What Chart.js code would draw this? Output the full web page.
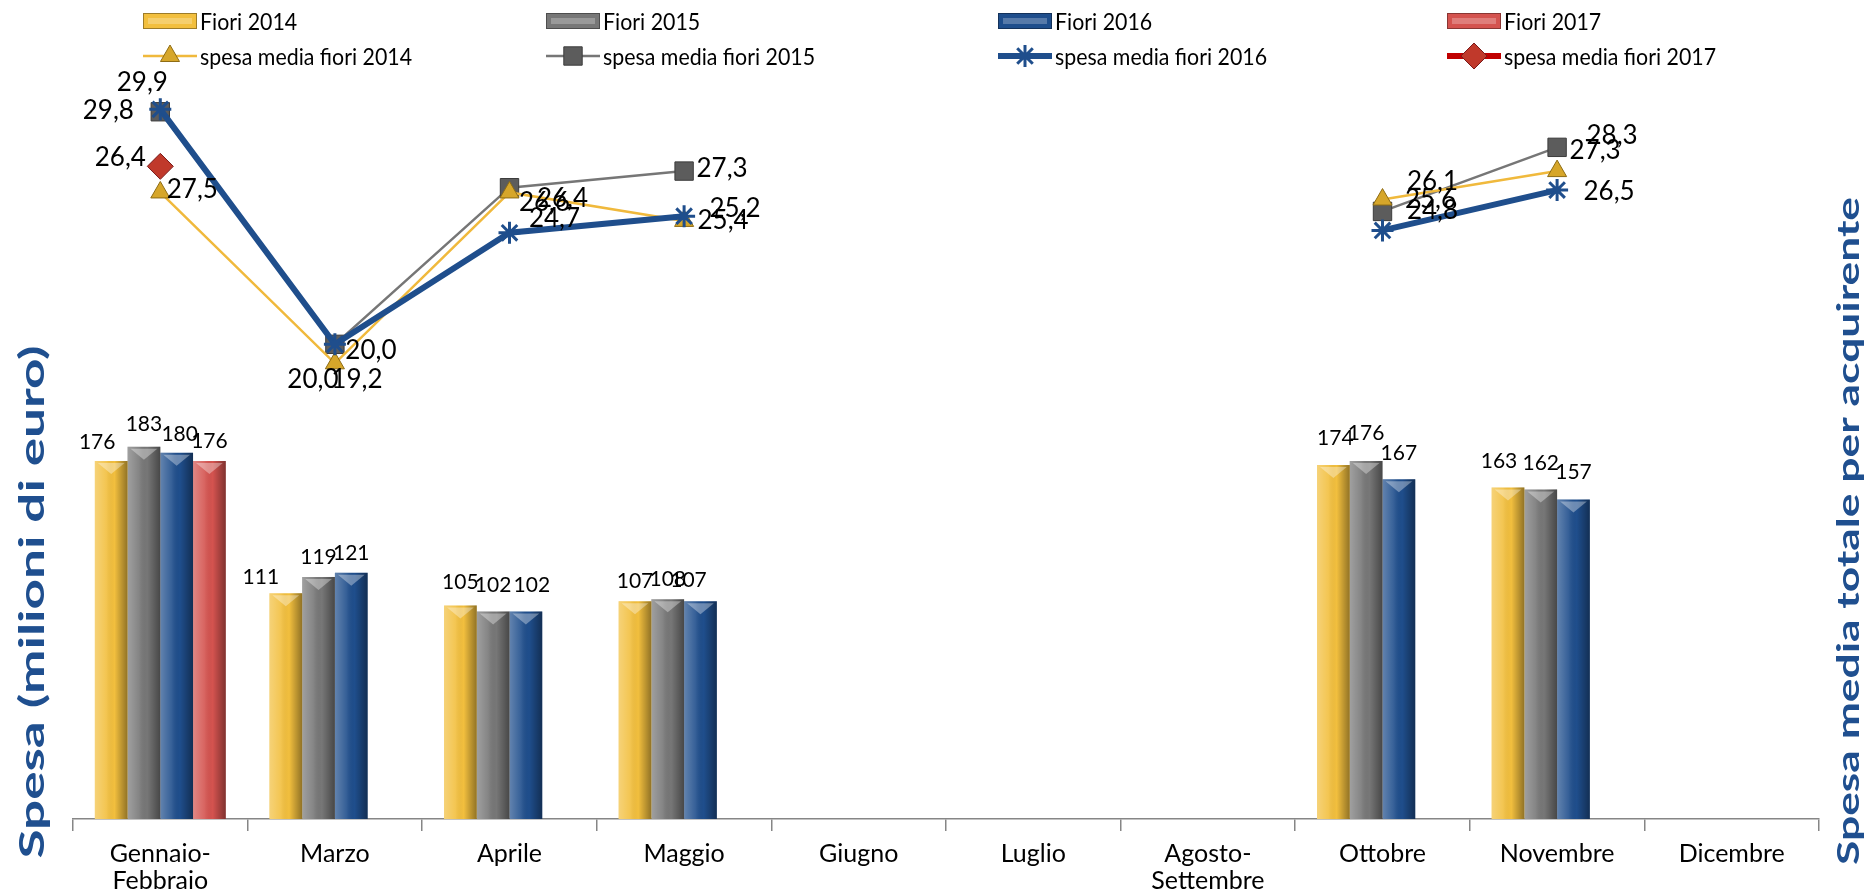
<!DOCTYPE html>
<html>
<head>
<meta charset="utf-8">
<script src="https://cdn.jsdelivr.net/npm/chart.js@4.4.0/dist/chart.umd.min.js"></script>
<style>
  html, body { margin: 0; padding: 0; background: #fff; }
  #wrap { width: 1870px; height: 894px; position: relative; }
</style>
</head>
<body>
<div id="wrap"><canvas id="grafico"></canvas></div>
<script>
const mesi = [['Gennaio-', 'Febbraio'], 'Marzo', 'Aprile', 'Maggio', 'Giugno', 'Luglio', ['Agosto-', 'Settembre'], 'Ottobre', 'Novembre', 'Dicembre'];

// spesa (milioni di euro)
const fiori2014 = [176, 111, 105, 107, null, null, null, 174, 163, null];
const fiori2015 = [183, 119, 102, 108, null, null, null, 176, 162, null];
const fiori2016 = [180, 121, 102, 107, null, null, null, 167, 157, null];
const fiori2017 = [176, null, null, null, null, null, null, null, null, null];

// spesa media per acquirente
const spesa2014 = [26.4, 19.2, 26.4, 25.2, null, null, null, 26.1, 27.3, null];
const spesa2015 = [29.8, 20.0, 26.6, 27.3, null, null, null, 25.6, 28.3, null];
const spesa2016 = [29.9, 20.0, 24.7, 25.4, null, null, null, 24.8, 26.5, null];
const spesa2017 = [27.5, null, null, null, null, null, null, null, null, null];

const FONT = 'Lato, "Open Sans", sans-serif';

// spostamenti delle etichette [dx, dy] rispetto alla barra / al punto
const spostaBarre = {
  0: { 0: [-14, -19], 1: [-25, -16], 2: [0, -23], 7: [2, -27], 8: [-9, -26] },
  1: { 0: [0, -22], 2: [0, -26], 7: [0, -28], 8: [0, -26] },
  2: { 0: [3, -19], 2: [6, -26], 3: [-12, -21], 7: [0, -26], 8: [0, -27] },
  3: {}
};
const spostaLinee = {
  4: { 0: [-40, -35], 1: [22, 16], 2: [53, 6], 3: [51, -12], 7: [50, -18], 8: [38, -20] },
  5: { 0: [-52, -1], 1: [36, 6], 2: [35, 15], 3: [38, -2], 7: [48, -12], 8: [55, -12] },
  6: { 0: [-18, -27], 1: [-22, 35], 2: [45, -14], 3: [39, 4], 7: [50, -20], 8: [52, 2] },
  7: { 0: [32, 23] }
};

function disegnaMarcatore(ctx, stile, x, y, r, fill, stroke, lw) {
  ctx.save();
  ctx.fillStyle = fill;
  ctx.strokeStyle = stroke;
  ctx.lineWidth = lw;
  ctx.beginPath();
  if (stile === 'triangle') {
    ctx.moveTo(x, y - r);
    ctx.lineTo(x + r * 0.866, y + r / 2);
    ctx.lineTo(x - r * 0.866, y + r / 2);
    ctx.closePath();
    ctx.fill(); ctx.stroke();
  } else if (stile === 'rect') {
    const s = r * Math.SQRT1_2;
    ctx.rect(x - s, y - s, 2 * s, 2 * s);
    ctx.fill(); ctx.stroke();
  } else if (stile === 'rectRot') {
    ctx.moveTo(x, y - r); ctx.lineTo(x + r, y); ctx.lineTo(x, y + r); ctx.lineTo(x - r, y);
    ctx.closePath();
    ctx.fill(); ctx.stroke();
  } else if (stile === 'star') {
    const d = r * Math.SQRT1_2;
    ctx.moveTo(x - r, y); ctx.lineTo(x + r, y);
    ctx.moveTo(x, y - r); ctx.lineTo(x, y + r);
    ctx.moveTo(x - d, y - d); ctx.lineTo(x + d, y + d);
    ctx.moveTo(x - d, y + d); ctx.lineTo(x + d, y - d);
    ctx.stroke();
  }
  ctx.restore();
}

function ombraBarra(ctx, l, t, w, h) {
  const g = ctx.createLinearGradient(l, 0, l + w, 0);
  g.addColorStop(0, 'rgba(255,255,255,0.30)');
  g.addColorStop(0.35, 'rgba(255,255,255,0.10)');
  g.addColorStop(0.6, 'rgba(0,0,0,0)');
  g.addColorStop(1, 'rgba(0,0,0,0.40)');
  ctx.fillStyle = g;
  ctx.fillRect(l, t, w, h);
}

const barre3d = {
  id: 'barre3d',
  afterDatasetDraw(chart, args) {
    if (args.meta.type !== 'bar') return;
    const ctx = chart.ctx;
    ctx.save();
    args.meta.data.forEach(bar => {
      if (bar.skip) return;
      const p = bar.getProps(['x', 'y', 'base', 'width'], true);
      if (!isFinite(p.y)) return;
      const l = p.x - p.width / 2;
      ombraBarra(ctx, l, p.y, p.width, p.base - p.y);
      ctx.fillStyle = 'rgba(255,255,255,0.35)';
      ctx.beginPath();
      ctx.moveTo(l + 3, p.y + 2);
      ctx.lineTo(l + p.width - 3, p.y + 2);
      ctx.lineTo(p.x, p.y + 13);
      ctx.closePath();
      ctx.fill();
    });
    ctx.restore();
  }
};

const etichette = {
  id: 'etichette',
  afterDatasetsDraw(chart) {
    const ctx = chart.ctx;
    ctx.save();
    ctx.fillStyle = '#000';
    ctx.textAlign = 'center';
    ctx.textBaseline = 'middle';
    chart.data.datasets.forEach((ds, i) => {
      const meta = chart.getDatasetMeta(i);
      const isBar = ds.type !== 'line';
      ctx.font = (isBar ? '21px ' : '26px ') + FONT;
      meta.data.forEach((el, j) => {
        const v = ds.data[j];
        if (v === null || v === undefined) return;
        let off;
        if (isBar) off = (spostaBarre[i] && spostaBarre[i][j]) || [0, -20];
        else off = (spostaLinee[i] && spostaLinee[i][j]) || [30, 0];
        const txt = isBar ? String(v) : v.toFixed(1).replace('.', ',');
        ctx.fillText(txt, el.x + off[0], el.y + off[1]);
      });
    });
    ctx.restore();
  }
};

const colonneLegenda = [143, 546, 998, 1447];
const righeLegenda = [21, 56];

const legenda = {
  id: 'legenda',
  afterDraw(chart) {
    const ctx = chart.ctx;
    ctx.save();
    chart.data.datasets.forEach((ds, i) => {
      const x = colonneLegenda[i % 4];
      const y = righeLegenda[Math.floor(i / 4)];
      if (ds.type === 'line') {
        ctx.strokeStyle = ds.borderColor;
        ctx.lineWidth = ds.borderWidth;
        ctx.beginPath();
        ctx.moveTo(x, y); ctx.lineTo(x + 54, y);
        ctx.stroke();
        disegnaMarcatore(ctx, ds.pointStyle, x + 27, y, ds.pointRadius, ds.pointBackgroundColor, ds.pointBorderColor, ds.pointBorderWidth);
      } else {
        ctx.fillStyle = ds.backgroundColor;
        ctx.fillRect(x, y - 8, 54, 16);
        ctx.fillStyle = 'rgba(255,255,255,0.25)';
        ctx.fillRect(x + 5, y - 3, 44, 6);
        ctx.strokeStyle = 'rgba(0,0,0,0.35)';
        ctx.lineWidth = 1;
        ctx.strokeRect(x + 0.5, y - 7.5, 53, 15);
      }
      // testo un po' stretto, come nell'originale
      ctx.save();
      ctx.translate(x + 57, y + 1);
      ctx.scale(0.89, 1);
      ctx.font = '24px ' + FONT;
      ctx.textBaseline = 'middle';
      ctx.textAlign = 'left';
      ctx.fillStyle = '#000';
      ctx.fillText(ds.label, 0, 0);
      ctx.restore();
    });
    ctx.restore();
  }
};

function titoloVerticale(ctx, testo, cx, cy, lunghezza, size) {
  ctx.save();
  ctx.font = 'bold ' + size + 'px ' + FONT;
  const w = ctx.measureText(testo).width;
  ctx.translate(cx, cy);
  ctx.rotate(-Math.PI / 2);
  ctx.scale(lunghezza / w, 1);
  ctx.fillStyle = '#1f4f8f';
  ctx.textAlign = 'center';
  ctx.textBaseline = 'middle';
  ctx.fillText(testo, 0, 0);
  ctx.restore();
}

const titoliAssi = {
  id: 'titoliAssi',
  afterDraw(chart) {
    titoloVerticale(chart.ctx, 'Spesa (milioni di euro)', 33, 602, 513, 34);
    titoloVerticale(chart.ctx, 'Spesa media totale per acquirente', 1849, 531, 668, 31);
  }
};

const ctx = document.getElementById('grafico');

new Chart(ctx, {
  type: 'bar',
  data: {
    labels: mesi,
    datasets: [
      { label: 'Fiori 2014', data: fiori2014, backgroundColor: '#f2bf3e', yAxisID: 'y' },
      { label: 'Fiori 2015', data: fiori2015, backgroundColor: '#777777', yAxisID: 'y' },
      { label: 'Fiori 2016', data: fiori2016, backgroundColor: '#1f4e8c', yAxisID: 'y' },
      { label: 'Fiori 2017', data: fiori2017, backgroundColor: '#d4534f', yAxisID: 'y' },
      {
        type: 'line', label: 'spesa media fiori 2014', data: spesa2014, yAxisID: 'y1', order: 0,
        borderColor: '#f0b93c', borderWidth: 2.5,
        pointStyle: 'triangle', pointRadius: 11, pointBackgroundColor: '#d6a62a', pointBorderColor: '#8e6c14', pointBorderWidth: 1,
        clip: false
      },
      {
        type: 'line', label: 'spesa media fiori 2015', data: spesa2015, yAxisID: 'y1', order: 0,
        borderColor: '#767676', borderWidth: 2.5,
        pointStyle: 'rect', pointRadius: 13, pointBackgroundColor: '#5c5c5c', pointBorderColor: '#3c3c3c', pointBorderWidth: 1,
        clip: false
      },
      {
        type: 'line', label: 'spesa media fiori 2016', data: spesa2016, yAxisID: 'y1', order: -1,
        borderColor: '#1f4e8c', borderWidth: 6,
        pointStyle: 'star', pointRadius: 11, pointBackgroundColor: '#1f4e8c', pointBorderColor: '#1f4e8c', pointBorderWidth: 3,
        clip: false
      },
      {
        type: 'line', label: 'spesa media fiori 2017', data: spesa2017, yAxisID: 'y1', order: -2,
        borderColor: '#c00000', borderWidth: 6,
        pointStyle: 'rectRot', pointRadius: 13, pointBackgroundColor: '#c0392b', pointBorderColor: '#7a1a1a', pointBorderWidth: 1,
        clip: false
      }
    ]
  },
  options: {
    responsive: true,
    maintainAspectRatio: false,
    animation: false,
    categoryPercentage: 0.75,
    barPercentage: 1.0,
    layout: { padding: { left: 73, right: 51, top: 107, bottom: 0 } },
    plugins: {
      legend: { display: false },
      tooltip: { enabled: false }
    },
    scales: {
      x: {
        afterFit(scale) { scale.height = 75; },
        border: { display: true, color: '#868686', width: 1.5 },
        grid: { drawOnChartArea: false, drawTicks: true, tickLength: 12, color: '#868686', lineWidth: 1.5 },
        ticks: { color: '#000', padding: 9, maxRotation: 0, autoSkip: false, font: { family: FONT, size: 25, lineHeight: 1.08 } }
      },
      y: { display: false, min: 0, max: 350 },
      y1: { display: false, min: 0, max: 30, position: 'right' }
    }
  },
  plugins: [barre3d, etichette, legenda, titoliAssi]
});
</script>
</body>
</html>
